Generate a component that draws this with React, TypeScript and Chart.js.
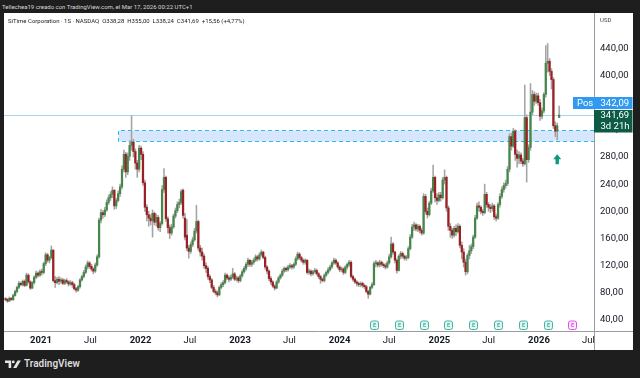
import React, { useEffect, useRef } from 'react';
import { Chart, registerables } from 'chart.js';

Chart.register(...registerables);

const firstWeekStart = '2020-08-24';

const opens = [
  71,70,68,72,70,76,82,88,94,92,
  97,91,106,96,87,95,103,109,106,111,
  110,123,136,128,132,143,98,95,100,97,
  99,94,98,96,93,95,92,86,84,89,
  99,104,110,118,124,119,115,112,121,133,
  187,198,195,202,213,220,225,231,208,216,
  226,236,262,284,258,281,297,302,288,271,
  262,293,284,242,206,195,190,186,197,184,
  191,176,182,232,250,189,176,168,177,193,
  201,210,213,231,190,165,146,141,151,158,
  171,185,146,140,134,120,116,104,99,88,
  82,80,77,88,92,95,106,102,100,103,
  108,100,102,98,105,111,116,122,128,122,
  125,128,133,130,136,140,132,118,112,101,
  96,90,87,96,102,106,112,116,114,118,
  120,118,122,130,137,132,128,125,128,110,
  112,108,111,113,108,104,100,98,106,110,
  114,118,124,128,124,118,114,115,110,118,
  122,125,104,100,96,94,92,94,91,89,
  82,78,88,92,123,124,121,125,122,120,
  118,124,133,152,140,128,113,134,138,134,
  131,132,145,162,177,180,174,178,172,168,
  222,200,195,212,230,250,220,216,224,220,
  246,250,205,178,172,165,175,170,178,150,
  140,125,111,135,142,148,162,190,208,206,
  200,198,225,210,206,204,208,192,190,210,
  222,232,238,241,262,310,296,318,284,278,
  283,274,270,338,276,294,346,372,362,370,
  360,340,348,372,418,421,406,394,326,318,338.28,
];

const highs = [
  73,72,74,73,78,84,90,97,96,99,
  99,109,108,98,97,105,112,111,114,115,
  125,139,138,134,149,143,104,103,104,102,
  101,100,101,98,98,97,94,88,91,101,
  106,113,121,127,126,122,117,124,136,190,
  203,201,206,217,224,229,236,232,219,230,
  240,267,290,287,286,304,341,306,292,275,
  297,296,288,246,210,200,195,202,199,196,
  194,185,238,263,252,192,180,181,196,205,
  214,218,232,233,197,188,150,155,162,175,
  209,187,150,146,137,124,119,107,101,91,
  85,83,90,95,98,109,108,105,106,116,
  110,105,104,107,114,119,125,131,129,128,
  131,136,135,139,143,141,134,120,114,104,
  98,92,98,104,108,115,118,118,121,123,
  122,124,133,140,139,134,130,130,129,115,
  114,113,116,115,110,106,102,108,112,117,
  121,126,131,130,126,120,118,117,120,124,
  128,127,106,102,98,96,96,96,93,91,
  84,90,95,126,128,126,128,127,124,123,
  127,137,162,154,141,130,136,141,140,136,
  135,148,166,181,184,182,181,180,175,226,
  225,205,215,234,268,252,226,228,228,250,
  261,252,208,182,175,178,180,182,180,155,
  145,130,138,150,152,165,194,212,214,208,
  203,240,228,213,210,212,210,196,213,226,
  236,242,246,266,314,315,322,320,290,288,
  286,278,386,342,298,388,378,376,374,374,
  365,352,375,444,447,425,410,397,332,330,355,
];

const lows = [
  68,66,67,69,69,75,80,86,90,90,
  89,90,94,85,86,93,101,103,104,106,
  108,120,125,124,130,96,88,93,92,94,
  92,92,94,90,91,88,84,81,82,87,
  97,102,108,115,116,112,108,110,119,131,
  183,190,192,200,210,216,220,203,204,214,
  222,233,258,250,254,275,290,280,262,250,
  258,276,238,200,186,178,180,162,180,178,
  172,170,180,228,185,168,160,165,175,190,
  198,205,210,190,158,142,131,138,148,156,
  168,142,134,128,116,110,100,95,86,80,
  77,74,76,86,89,93,99,96,98,101,
  98,97,95,96,103,109,113,119,119,119,
  122,126,127,128,134,130,115,108,98,92,
  88,84,86,94,100,104,110,111,112,116,
  115,116,120,128,129,125,122,122,108,107,
  105,106,109,106,101,94,96,96,104,108,
  112,116,122,122,116,111,111,107,108,115,
  119,102,97,94,90,89,89,88,86,80,
  72,77,86,91,118,118,118,119,117,115,
  116,122,131,137,124,109,112,130,131,128,
  128,130,143,160,172,171,170,168,165,166,
  196,190,193,210,228,214,210,214,215,218,
  240,200,172,162,160,162,164,168,146,130,
  118,106,108,130,138,145,160,188,200,196,
  194,196,206,200,198,200,188,186,188,206,
  219,228,234,238,258,290,294,275,265,270,
  270,266,268,243,272,290,342,356,359,356,
  334,336,345,368,405,400,380,322,310,305,338.24,
];

const closes = [
  70,68,72,70,76,82,88,94,92,97,
  91,106,96,87,95,103,109,106,111,110,
  123,136,128,132,143,98,95,100,97,99,
  94,98,96,93,95,92,86,84,89,99,
  104,110,118,124,119,115,112,121,133,187,
  198,195,202,213,220,225,231,208,216,226,
  236,262,284,258,281,297,302,288,271,262,
  293,284,242,206,195,190,186,197,184,191,
  176,182,232,250,189,176,168,177,193,201,
  210,213,229,194,162,146,141,151,158,171,
  185,146,140,134,120,116,104,99,88,82,
  80,77,88,92,95,106,102,100,103,108,
  100,102,98,105,111,116,122,128,122,125,
  128,133,130,136,140,132,118,112,101,96,
  90,87,96,102,106,112,116,114,118,120,
  118,122,130,137,132,128,125,128,110,112,
  108,111,113,108,104,100,98,106,110,114,
  118,124,128,124,118,114,115,110,118,122,
  125,104,100,96,94,92,94,91,89,82,
  78,88,92,123,124,121,125,122,120,118,
  124,133,152,140,128,113,134,138,134,131,
  132,145,162,177,180,174,178,172,168,222,
  200,195,212,230,250,220,216,224,220,246,
  250,205,178,172,165,175,170,178,150,140,
  125,111,135,142,148,162,190,208,206,200,
  198,225,210,206,204,208,192,190,210,222,
  232,238,241,262,310,296,318,284,278,283,
  274,270,338,276,294,346,372,362,370,360,
  340,348,372,418,421,406,394,326,318,326.13,341.69,
];

const timeTickDates = [
  '2021-01-01','2021-07-01','2022-01-01','2022-07-01','2023-01-01','2023-07-01',
  '2024-01-01','2024-07-01','2025-01-01','2025-07-01','2026-01-01','2026-07-01',
];
const timeTickLabels = ['2021','Jul','2022','Jul','2023','Jul','2024','Jul','2025','Jul','2026','Jul'];
const priceTickValues = [40, 80, 120, 160, 200, 240, 280, 320, 360, 400, 440];

const earningsDates = ['2024-05-08','2024-08-07','2024-11-06','2025-02-05','2025-05-07','2025-08-06','2025-11-05','2026-02-04'];
const upcomingEarningsDates = ['2026-05-06'];

const zoneStartDate = '2021-10-11';
const zoneLow = 303;
const zoneHigh = 320;
const positionPrice = 342.09;
const lastPrice = 341.69;
const barCountdown = '3d 21h';
const signalDate = '2026-03-09';
const signalPrice = 284;

const UP = '#46864a';
const DOWN = '#9c1f23';
const WICK = '#a3a3a3';
const FONT = 'Roboto, "Noto Sans", sans-serif';

const DAY = 86400000;
const toWeek = (d: string) =>
  (Date.parse(d + 'T00:00:00Z') - Date.parse(firstWeekStart + 'T00:00:00Z')) / (7 * DAY);

const fmt = (v: number) => v.toFixed(2).replace('.', ',');

function roundRect(ctx: CanvasRenderingContext2D, x: number, y: number, w: number, h: number, r: number) {
  ctx.beginPath();
  ctx.moveTo(x + r, y);
  ctx.lineTo(x + w - r, y);
  ctx.quadraticCurveTo(x + w, y, x + w, y + r);
  ctx.lineTo(x + w, y + h - r);
  ctx.quadraticCurveTo(x + w, y + h, x + w - r, y + h);
  ctx.lineTo(x + r, y + h);
  ctx.quadraticCurveTo(x, y + h, x, y + h - r);
  ctx.lineTo(x, y + r);
  ctx.quadraticCurveTo(x, y, x + r, y);
  ctx.closePath();
}

const overlayPlugin = {
  id: 'tvOverlay',
  beforeDatasetsDraw(chart: any) {
    const { ctx, chartArea: a, scales } = chart;
    const x = scales.x, y = scales.y;
    ctx.save();
    ctx.beginPath();
    ctx.rect(a.left, a.top, a.right - a.left, a.bottom - a.top);
    ctx.clip();
    const zx = Math.round(x.getPixelForValue(toWeek(zoneStartDate))) + 0.5;
    const zt = Math.round(y.getPixelForValue(zoneHigh)) + 0.5;
    const zb = Math.round(y.getPixelForValue(zoneLow)) + 0.5;
    ctx.fillStyle = 'rgba(45,120,240,0.19)';
    ctx.fillRect(zx, zt, a.right - zx, zb - zt);
    ctx.strokeStyle = '#29bfd9';
    ctx.lineWidth = 1;
    ctx.setLineDash([4, 3]);
    ctx.beginPath();
    ctx.moveTo(a.right, zt);
    ctx.lineTo(zx, zt);
    ctx.lineTo(zx, zb);
    ctx.lineTo(a.right, zb);
    ctx.stroke();
    ctx.setLineDash([]);
    const py = Math.round(y.getPixelForValue(positionPrice)) + 0.5;
    ctx.strokeStyle = '#a6d5f2';
    ctx.beginPath();
    ctx.moveTo(a.left, py);
    ctx.lineTo(a.right, py);
    ctx.stroke();
    ctx.restore();
  },
  afterDatasetsDraw(chart: any) {
    const { ctx, chartArea: a, scales } = chart;
    const x = scales.x, y = scales.y;
    ctx.save();
    const drawE = (d: string, stroke: string, fill: string) => {
      const cx = x.getPixelForValue(Math.floor(toWeek(d)));
      const cy = a.bottom - 6;
      roundRect(ctx, Math.round(cx) - 3.5, cy - 4, 8, 8.5, 2);
      ctx.fillStyle = fill;
      ctx.fill();
      ctx.strokeStyle = stroke;
      ctx.lineWidth = 1;
      ctx.stroke();
      ctx.fillStyle = stroke;
      ctx.font = `bold 5.5px ${FONT}`;
      ctx.textAlign = 'center';
      ctx.textBaseline = 'middle';
      ctx.fillText('E', Math.round(cx) + 0.5, cy + 0.5);
    };
    earningsDates.forEach((d) => drawE(d, '#43b3a3', '#e3f4f1'));
    upcomingEarningsDates.forEach((d) => drawE(d, '#e24ff0', '#fbe9fd'));
    // signal arrow
    const ax = x.getPixelForValue(toWeek(signalDate));
    const ay = y.getPixelForValue(signalPrice);
    ctx.fillStyle = '#0a9a7c';
    ctx.beginPath();
    ctx.moveTo(ax, ay);
    ctx.lineTo(ax + 4, ay + 5);
    ctx.lineTo(ax + 1.7, ay + 5);
    ctx.lineTo(ax + 1.7, ay + 10);
    ctx.lineTo(ax - 1.7, ay + 10);
    ctx.lineTo(ax - 1.7, ay + 5);
    ctx.lineTo(ax - 4, ay + 5);
    ctx.closePath();
    ctx.fill();
    ctx.restore();
  },
  afterDraw(chart: any) {
    const { ctx, chartArea: a, scales, width, height } = chart;
    const y = scales.y;
    ctx.save();
    ctx.strokeStyle = '#9a9ca3';
    ctx.lineWidth = 1;
    ctx.beginPath();
    ctx.moveTo(a.right + 0.5, 0);
    ctx.lineTo(a.right + 0.5, height);
    ctx.moveTo(0, a.bottom + 0.5);
    ctx.lineTo(width, a.bottom + 0.5);
    ctx.stroke();

    ctx.fillStyle = '#4a4a4a';
    ctx.font = `6px ${FONT}`;
    ctx.textAlign = 'left';
    ctx.textBaseline = 'middle';
    ctx.fillText('USD', a.right + 6, 7.5);

    // last price box
    const ly = y.getPixelForValue(lastPrice);
    ctx.fillStyle = '#0d5b45';
    ctx.fillRect(a.right, Math.round(ly) - 5, width - a.right - 0.5, 22.5);
    ctx.fillStyle = '#ffffff';
    ctx.font = `9.5px ${FONT}`;
    ctx.textBaseline = 'middle';
    ctx.fillText(fmt(lastPrice), a.right + 6.5, ly + 0.5);
    ctx.fillText(barCountdown, a.right + 6.5, ly + 11.5);

    // position label
    const py = y.getPixelForValue(positionPrice) - 12;
    ctx.fillStyle = '#3199ef';
    ctx.fillRect(a.right - 21, Math.round(py) - 6, width - 0.5 - (a.right - 21), 12);
    ctx.fillStyle = '#ffffff';
    ctx.fillText('Pos', a.right - 17, py + 0.5);
    ctx.fillText(fmt(positionPrice), a.right + 6.5, py + 0.5);
    ctx.restore();
  },
};

export default function App() {
  const ref = useRef<HTMLCanvasElement | null>(null);

  useEffect(() => {
    if (!ref.current) return;
    const bodies = closes.map((c, i) => ({ x: i, y: [opens[i], c] }));
    const wicks = closes.map((_, i) => ({ x: i, y: [lows[i], highs[i]] }));
    const chart = new Chart(ref.current, {
      type: 'bar',
      data: {
        datasets: [
          {
            label: 'body',
            data: bodies as any,
            backgroundColor: closes.map((c, i) => (c >= opens[i] ? UP : DOWN)),
            barThickness: 1.6,
            minBarLength: 1,
            grouped: false,
            order: 0,
          } as any,
          {
            label: 'wick',
            data: wicks as any,
            backgroundColor: WICK,
            barThickness: 0.9,
            grouped: false,
            order: 1,
          } as any,
        ],
      },
      options: {
        animation: false,
        responsive: false,
        maintainAspectRatio: false,
        devicePixelRatio: 1,
        events: [],
        layout: { padding: 0 },
        plugins: { legend: { display: false }, tooltip: { enabled: false } },
        scales: {
          x: {
            type: 'linear',
            min: -0.81,
            max: 308.27,
            offset: false,
            grid: { display: false, drawTicks: false },
            border: { display: false },
            afterBuildTicks: (s: any) => {
              s.ticks = timeTickDates.map((d) => ({ value: toWeek(d) }));
            },
            afterFit: (s: any) => {
              s.height = 19;
              s.paddingLeft = 0;
              s.paddingRight = 0;
            },
            ticks: {
              autoSkip: false,
              maxRotation: 0,
              padding: 4,
              color: '#131722',
              font: (c: any) => ({
                family: FONT,
                size: 9.5,
                weight: timeTickLabels[c.index] === 'Jul' ? 'normal' : 'bold',
              }),
              callback: (_v: any, idx: number) => timeTickLabels[idx],
            },
          } as any,
          y: {
            type: 'linear',
            position: 'right',
            min: 23.8,
            max: 492,
            grid: { display: false, drawTicks: false },
            border: { display: false },
            afterBuildTicks: (s: any) => {
              s.ticks = priceTickValues.map((v) => ({ value: v }));
            },
            afterFit: (s: any) => {
              s.width = 39;
              s.paddingTop = 0;
              s.paddingBottom = 0;
            },
            ticks: {
              padding: 6,
              color: '#131722',
              font: { family: FONT, size: 9.5 },
              callback: (v: any) => fmt(Number(v)),
            },
          } as any,
        },
      },
      plugins: [overlayPlugin],
    });
    return () => chart.destroy();
  }, []);

  return (
    <div
      style={{
        position: 'fixed',
        left: 0,
        top: 0,
        width: 640,
        height: 378,
        background: '#1e1e1e',
        overflow: 'hidden',
        fontFamily: FONT,
      }}
    >
      <div
        style={{
          position: 'absolute',
          left: 2,
          top: 0,
          height: 13,
          lineHeight: '13px',
          fontSize: 6,
          color: '#d8d8d8',
          whiteSpace: 'nowrap',
        }}
      >
        Tellechea19 creado con TradingView.com, el Mar 17, 2026 00:22 UTC+1
      </div>
      <div style={{ position: 'absolute', left: 4, top: 13, width: 629, height: 337, background: '#ffffff' }}>
        <canvas ref={ref} width={629} height={337} style={{ display: 'block', width: 629, height: 337 }} />
        <div
          style={{
            position: 'absolute',
            left: 4,
            top: 3,
            height: 9,
            lineHeight: '9px',
            fontSize: 6,
            color: '#222222',
            whiteSpace: 'nowrap',
          }}
        >
          SiTime Corporation · 1S · NASDAQ&nbsp; O338,28&nbsp; H355,00&nbsp; L338,24&nbsp; C341,69&nbsp; +15,56 (+4,77%)
        </div>
      </div>
      <div style={{ position: 'absolute', left: 5, top: 358, height: 12, display: 'flex', alignItems: 'center' }}>
        <svg width="16" height="9" viewBox="0 0 16 9" style={{ display: 'block' }}>
          <path d="M0 0.5h6.2v7.5H3.6V3H0z" fill="#e6e6e6" />
          <circle cx="8.3" cy="1.9" r="1.4" fill="#e6e6e6" />
          <path d="M12.6 0.5h3.2l-4.4 7.5H8.2z" fill="#e6e6e6" />
        </svg>
        <span style={{ marginLeft: 3, fontSize: 10, fontWeight: 600, color: '#dcdcdc', lineHeight: '12px' }}>TradingView</span>
      </div>
    </div>
  );
}
